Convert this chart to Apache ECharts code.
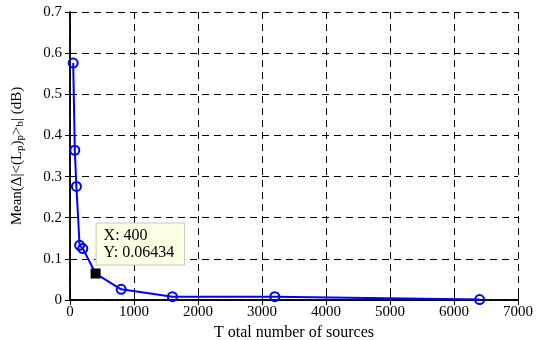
<!DOCTYPE html>
<html>
<head>
<meta charset="utf-8">
<script src="https://cdn.jsdelivr.net/npm/echarts@6/dist/echarts.min.js"></script>
<style>
  html, body { margin: 0; padding: 0; background: #fff; }
  #chart { width: 536px; height: 340px; }
</style>
</head>
<body>
<div id="chart"></div>
<script>
var sources = [50, 75, 100, 150, 200, 400, 800, 1600, 3200, 6400];
var meanErr = [0.576, 0.364, 0.276, 0.133, 0.125, 0.06434, 0.026, 0.008, 0.008, 0.001];
var picked = 400;

var _font = 'Liberation Serif';

var myChart = echarts.init(document.getElementById('chart'));

var pts = sources.map(function (s, i) {
  var p = { value: [s, meanErr[i]] };
  if (s === picked) {
    p.symbol = 'rect';
    p.symbolSize = 8;
    p.itemStyle = { color: '#000', borderColor: '#000' };
    p.label = {
      show: true,
      position: [6, -45],
      formatter: 'X: ' + s + '\nY: ' + meanErr[i],
      fontFamily: _font,
      fontSize: 16,
      color: '#000',
      lineHeight: 17,
      backgroundColor: '#ffffe6',
      borderColor: '#c8c8b4',
      borderWidth: 1,
      padding: [4, 10, 3, 7]
    };
  }
  return p;
});

var boxAxis = {
  axisLine: { show: true, lineStyle: { color: '#000', width: 1.5 } },
  axisTick: { show: true, inside: true, length: 5, lineStyle: { color: '#000' } },
  axisLabel: { show: false },
  splitLine: { show: false }
};

var option = {
  animation: false,
  grid: { left: 70, right: 18, top: 12, bottom: 40, containLabel: false, outerBoundsMode: 'none' },
  xAxis: [{
    type: 'value',
    min: 0,
    max: 7000,
    interval: 1000,
    name: 'T otal number of sources',
    nameLocation: 'middle',
    nameGap: 18,
    nameTextStyle: { fontFamily: _font, fontSize: 16, color: '#000' },
    axisLine: { lineStyle: { color: '#000', width: 1.5 } },
    axisTick: { inside: true, length: 5, lineStyle: { color: '#000' } },
    axisLabel: { fontFamily: _font, fontSize: 15, color: '#000', margin: 5, formatter: function (v) { return String(v); } },
    splitLine: { show: true, lineStyle: { color: '#000', type: [7, 5], width: 1 } }
  }, Object.assign({ type: 'value', position: 'top', min: 0, max: 7000, interval: 1000 }, boxAxis)],
  yAxis: [{
    type: 'value',
    min: 0,
    max: 0.7,
    interval: 0.1,
    name: '{n|Mean(Δ|<(L}{s|p}{n|)}{s|p}{n|>}{s|b}{n|| (dB)}',
    nameLocation: 'middle',
    nameGap: 44,
    nameTextStyle: {
      rich: {
        n: { fontFamily: _font, fontSize: 15, color: '#000' },
        s: { fontFamily: _font, fontSize: 11, color: '#000', verticalAlign: 'bottom', padding: [7, 0, 0, 0] }
      }
    },
    axisLine: { lineStyle: { color: '#000', width: 1.5 } },
    axisTick: { inside: true, length: 5, lineStyle: { color: '#000' } },
    axisLabel: { fontFamily: _font, fontSize: 15, color: '#000', margin: 8 },
    splitLine: { show: true, lineStyle: { color: '#000', type: [7, 5], width: 1 } }
  }, Object.assign({ type: 'value', position: 'right', min: 0, max: 0.7, interval: 0.1 }, boxAxis)],
  series: [{
    type: 'line',
    data: pts,
    symbol: 'circle',
    symbolSize: 9,
    showAllSymbol: true,
    lineStyle: { color: '#0000ff', width: 2 },
    itemStyle: { color: 'rgba(0,0,0,0)', borderColor: '#0000ff', borderWidth: 2 }
  }]
};

myChart.setOption(option, true);
</script>
</body>
</html>
